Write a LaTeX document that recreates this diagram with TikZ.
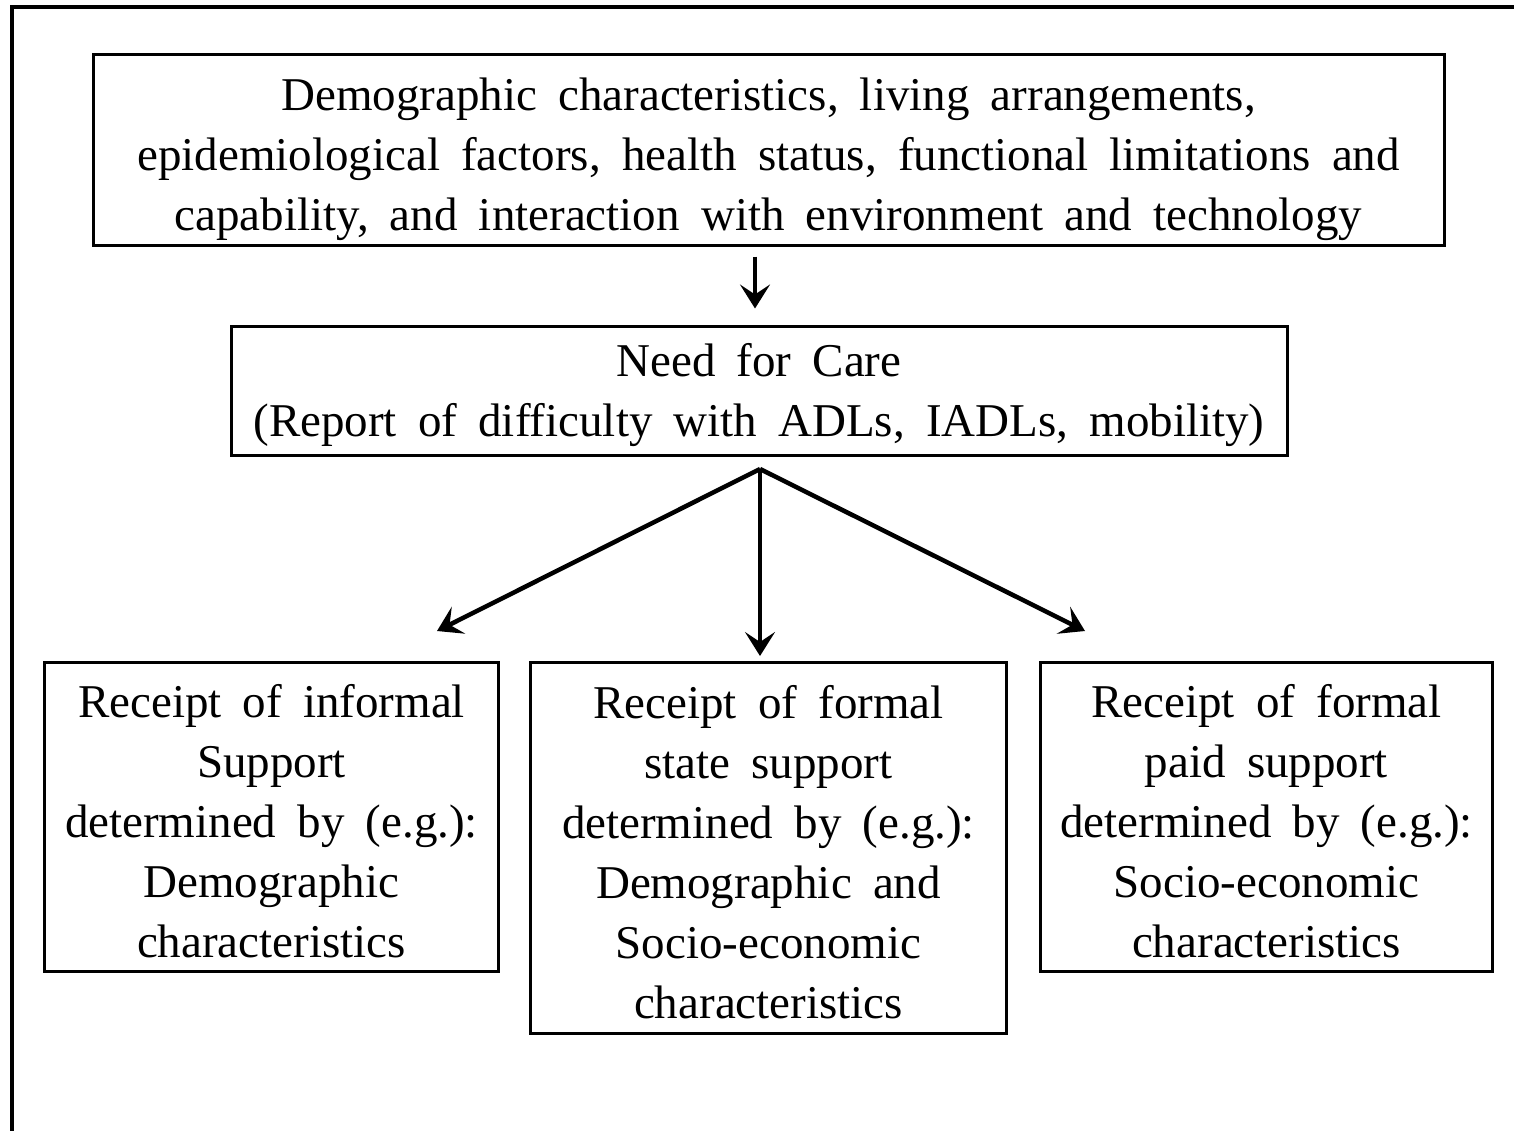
\documentclass[tikz,border=0pt]{standalone}
\usepackage{fontspec}
\setmainfont{Liberation Serif}
\usetikzlibrary{positioning,arrows.meta}
\newcommand{\boxfont}{\fontsize{23.5}{30}\selectfont\spaceskip=0.45em plus 0.1em\relax}
\tikzstyle{box}=[
draw=black,
shape=rectangle,
line width=1.5pt,
align=center,
inner sep=0pt,
font=\boxfont
]
\tikzstyle{frame} = [line width=2pt]
\tikzstyle{pstyle} = [line width=2.25pt,-{Stealth[length=12pt,width=15pt,inset=5pt]}]

\begin{document}
\begin{tikzpicture}[x=0.5pt,y=-0.5pt]
			\useasboundingbox (0,0) rectangle (1514,1130);
			\draw[frame] (12,1140) -- (12,7) -- (1520,7);
			
			% a strut on the first line pushes the text a little lower in each box
			\node[box,minimum width=675.5pt,minimum height=95.5pt] (factors) at (768.5,149.5)
			{\rule{0pt}{26pt}Demographic characteristics, living arrangements,\\
			epidemiological factors, health status, functional limitations and\\
			capability, and interaction with environment and technology};
			\node[box,minimum width=528pt,minimum height=64.5pt] (need) at (759,390.5)
			{\strut Need for Care\\(Report of difficulty with ADLs, IADLs, mobility)};
			
			\node[box,minimum width=227pt,minimum height=154.5pt,anchor=north west] (informal) at (43,661)
			{\strut Receipt of informal\\Support\\determined by (e.g.):\\Demographic\\characteristics};
			\node[box,minimum width=238pt,minimum height=185.5pt,right=14.5pt of informal.north east,anchor=north west] (state)
			{\strut Receipt of formal\\state support\\determined by (e.g.):\\Demographic and\\Socio-economic\\characteristics};
			\node[box,minimum width=226pt,minimum height=154.5pt,right=15.5pt of state.north east,anchor=north west] (paid)
			{\strut Receipt of formal\\paid support\\determined by (e.g.):\\Socio-economic\\characteristics};
			
			\coordinate (drop) at (755,0);
			\coordinate (fork) at (760,469);
			\coordinate (leftTip) at (437,631);
			\coordinate (rightTip) at (1085,631);
			
			\path[pstyle]
			(factors.south -| drop) edge[shorten <=5pt,shorten >=8pt] (need.north -| drop)
			(fork) edge (leftTip)
			(fork) edge[shorten >=2.5pt] (state.north -| fork)
			(fork) edge (rightTip);
			
\end{tikzpicture}
\end{document}
